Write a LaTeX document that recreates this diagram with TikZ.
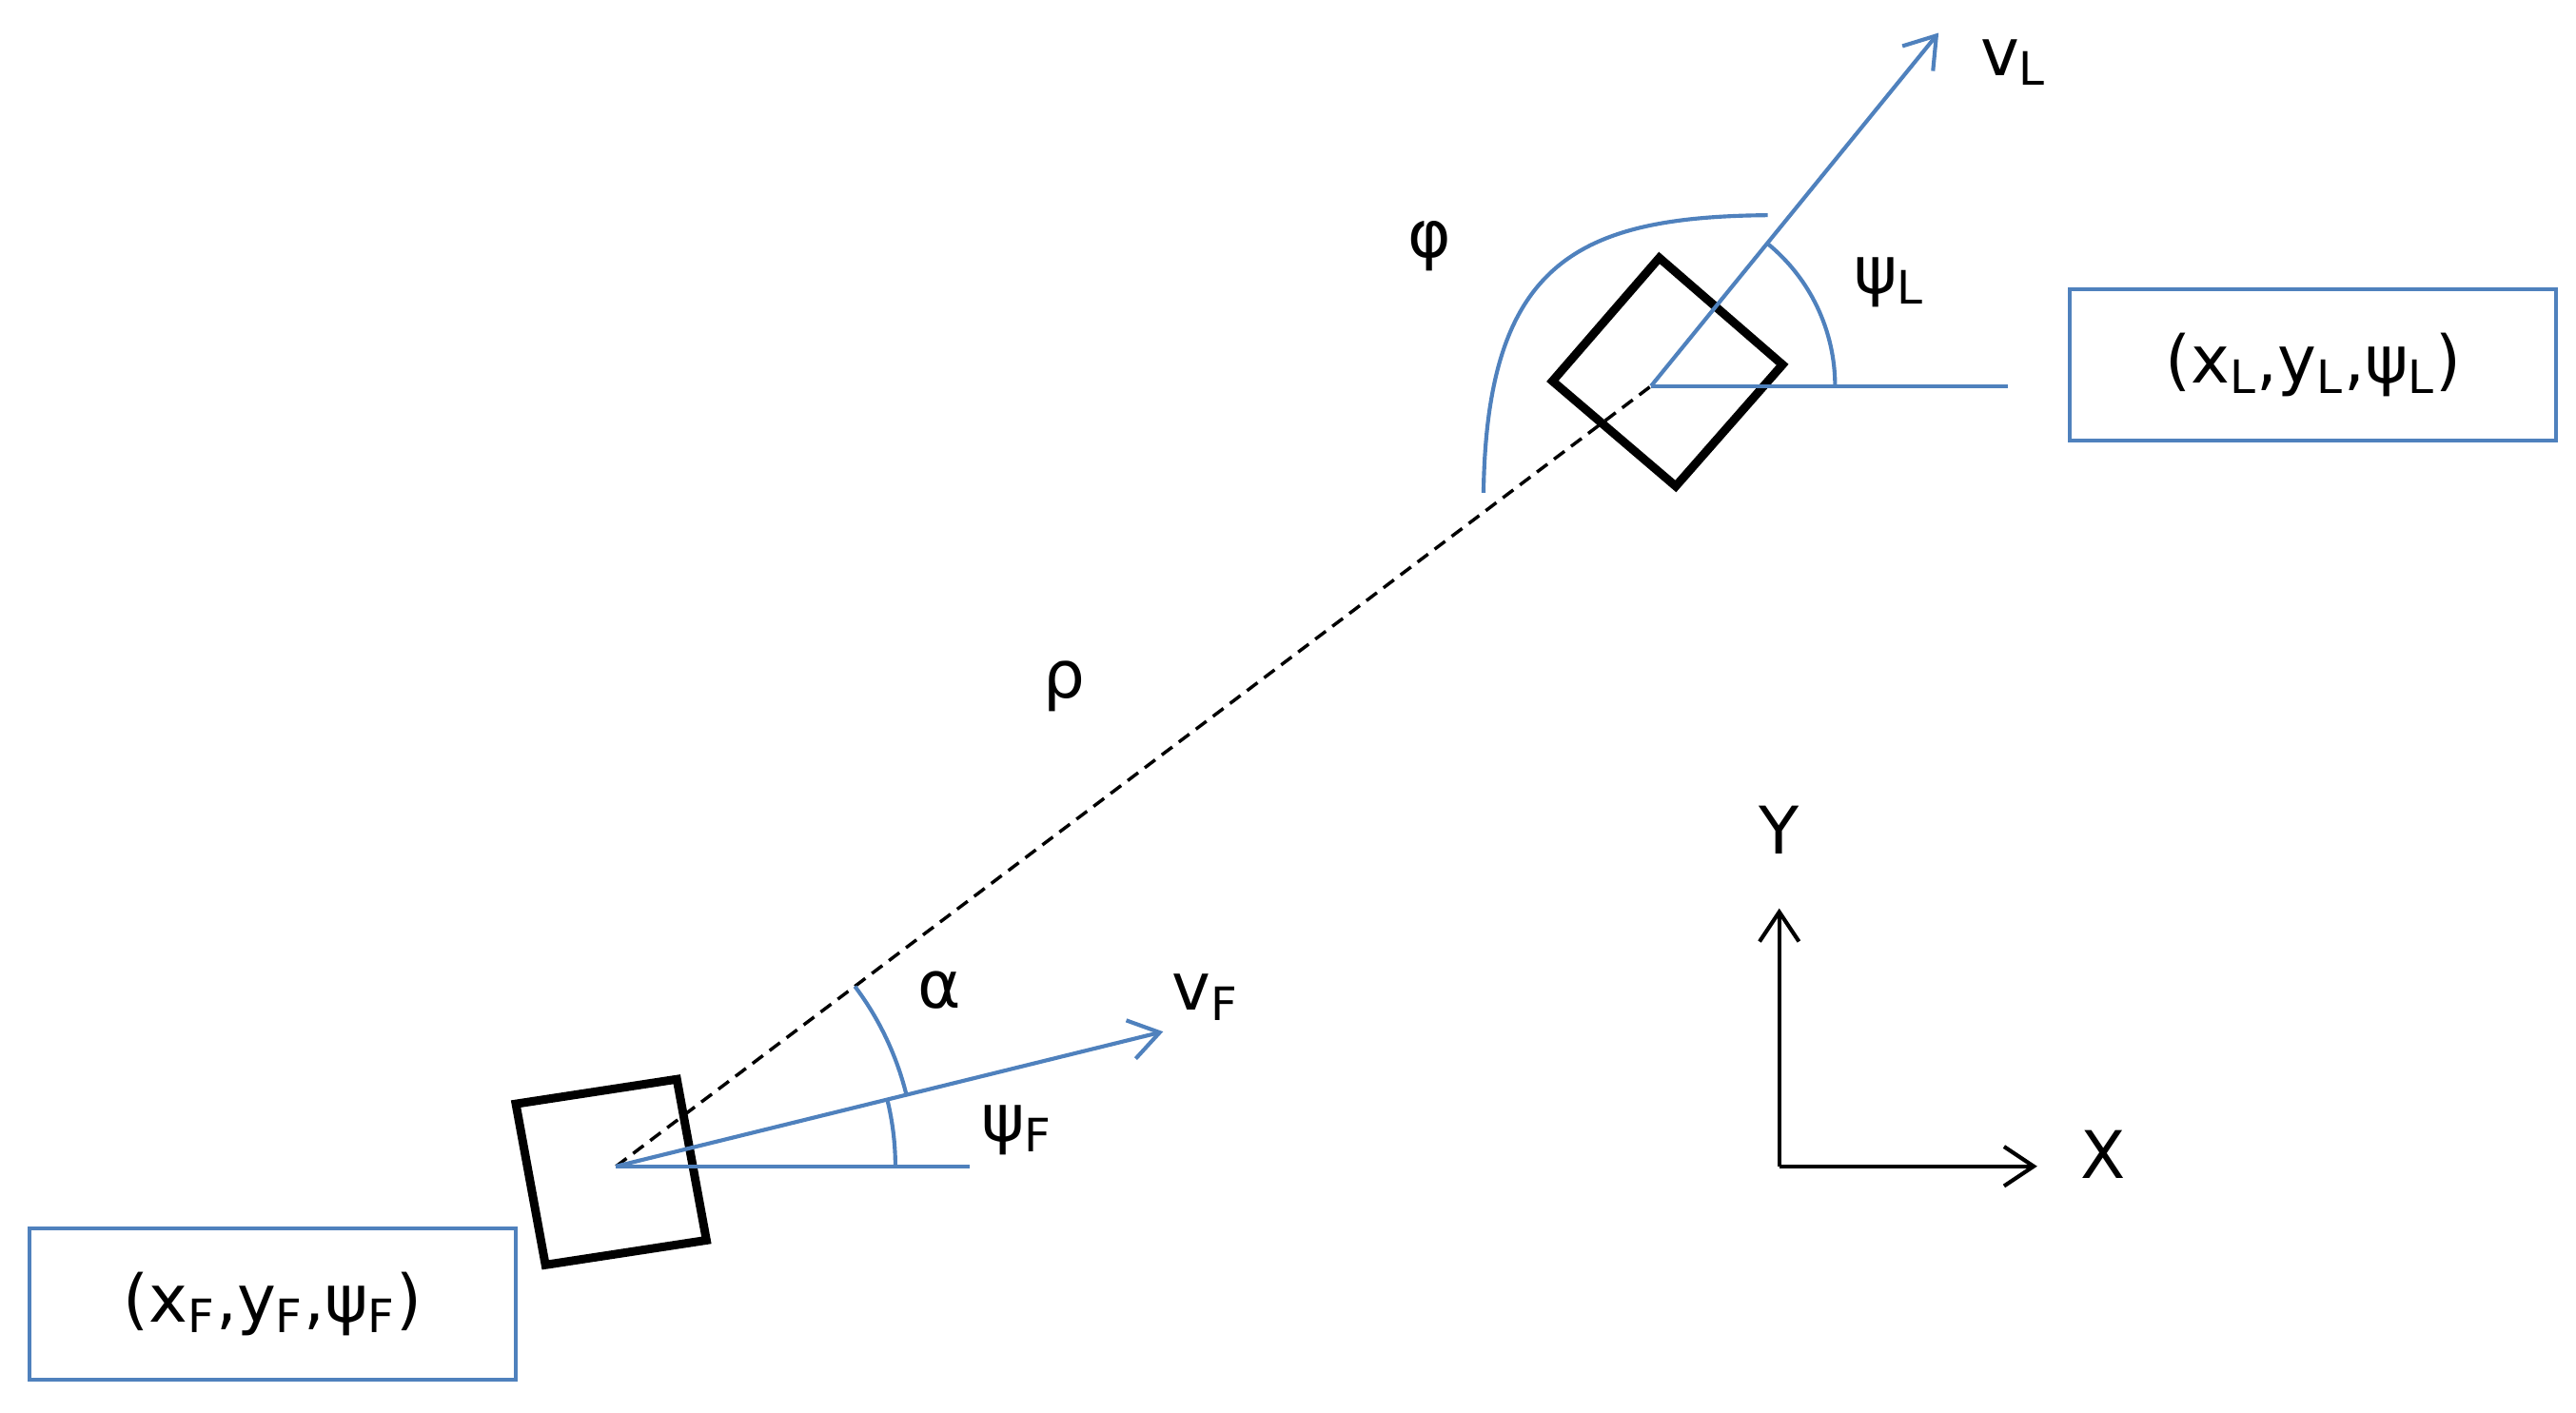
\documentclass[tikz,border=0pt]{standalone}
\usepackage{fontspec}
\setmainfont{DejaVu Sans}
\usetikzlibrary{arrows.meta}
\definecolor{bl}{HTML}{4F81BD}
\begin{document}
\begin{tikzpicture}[x=0.5pt,y=-0.5pt,
  bline/.style={draw=bl,line width=1.2pt},
  barrow/.style={bline,-{Straight Barb[length=9pt,width=12pt]}},
  karrow/.style={draw=black,line width=1.2pt,-{Straight Barb[length=9pt,width=12pt]}},
  veh/.style={draw=black,line width=2.6pt,line join=miter},
  lbl/.style={font=\fontsize{20}{24}\selectfont,inner sep=0pt},
  box/.style={draw=bl,line width=1.2pt,font=\fontsize{20}{24}\selectfont,minimum width=148pt,minimum height=46pt,inner sep=0pt}]
\useasboundingbox (0,0) rectangle (1568,860);
\fill[white] (0,0) rectangle (1568,860);
% follower
\coordinate (F) at (375,710);
\coordinate (Fh) at (590,710);
\coordinate (Fv) at (708,628);
\draw[veh] (314,672) -- (412,657) -- (430,755) -- (332,770) -- cycle;
% leader
\coordinate (L) at (1005,235);
\coordinate (Lh) at (1222,235);
\coordinate (Lv) at (1180,20);
\draw[veh] (945,232) -- (1010,157) -- (1085,222) -- (1020,296) -- cycle;
% rho
\draw[black,line width=1pt,dash pattern=on 4pt off 2.5pt] (F) -- (L);
\node[lbl] (rho) at (648,418) {ρ};
% follower lines
\draw[bline] (F) -- (Fh);
\draw[barrow] (F) -- (Fv);
\node[lbl,anchor=west] (vF) at (713,607) {v\textsubscript{F}};
\draw[bline] ([shift={(0:170)}]F) arc[start angle=0,end angle=-13.8,radius=170];
\draw[bline] ([shift={(-13.8:182)}]F) arc[start angle=-13.8,end angle=-37,radius=182];
\node[lbl] (al) at (572,603) {α};
\node[lbl,anchor=west] (psF) at (597,688) {ψ\textsubscript{F}};
% leader lines
\draw[bline] (L) -- (Lh);
\draw[barrow] (L) -- (Lv);
\node[lbl,anchor=west] (vL) at (1205,38) {v\textsubscript{L}};
\draw[bline] ([shift={(0:112)}]L) arc[start angle=0,end angle=-50.9,radius=112];
\node[lbl,anchor=west] (psL) at (1128,172) {ψ\textsubscript{L}};
\draw[bline] (1076,131) .. controls (960,132) and (905,160) .. (903,300);
\node[lbl] (phi) at (870,150) {φ};
% boxes
\node[box] (bF) at (166,794) {(x\textsubscript{F},y\textsubscript{F},ψ\textsubscript{F})};
\node[box] (bL) at (1408,222) {(x\textsubscript{L},y\textsubscript{L},ψ\textsubscript{L})};
% axes
\coordinate (O) at (1083,710);
\coordinate (Ye) at (1083,553);
\coordinate (Xe) at (1240,710);
\draw[karrow] (O) -- (Ye);
\draw[karrow] (O) -- (Xe);
\node[lbl] (Y) at (1083,505) {Y};
\node[lbl] (X) at (1280,703) {X};
\end{tikzpicture}
\end{document}
